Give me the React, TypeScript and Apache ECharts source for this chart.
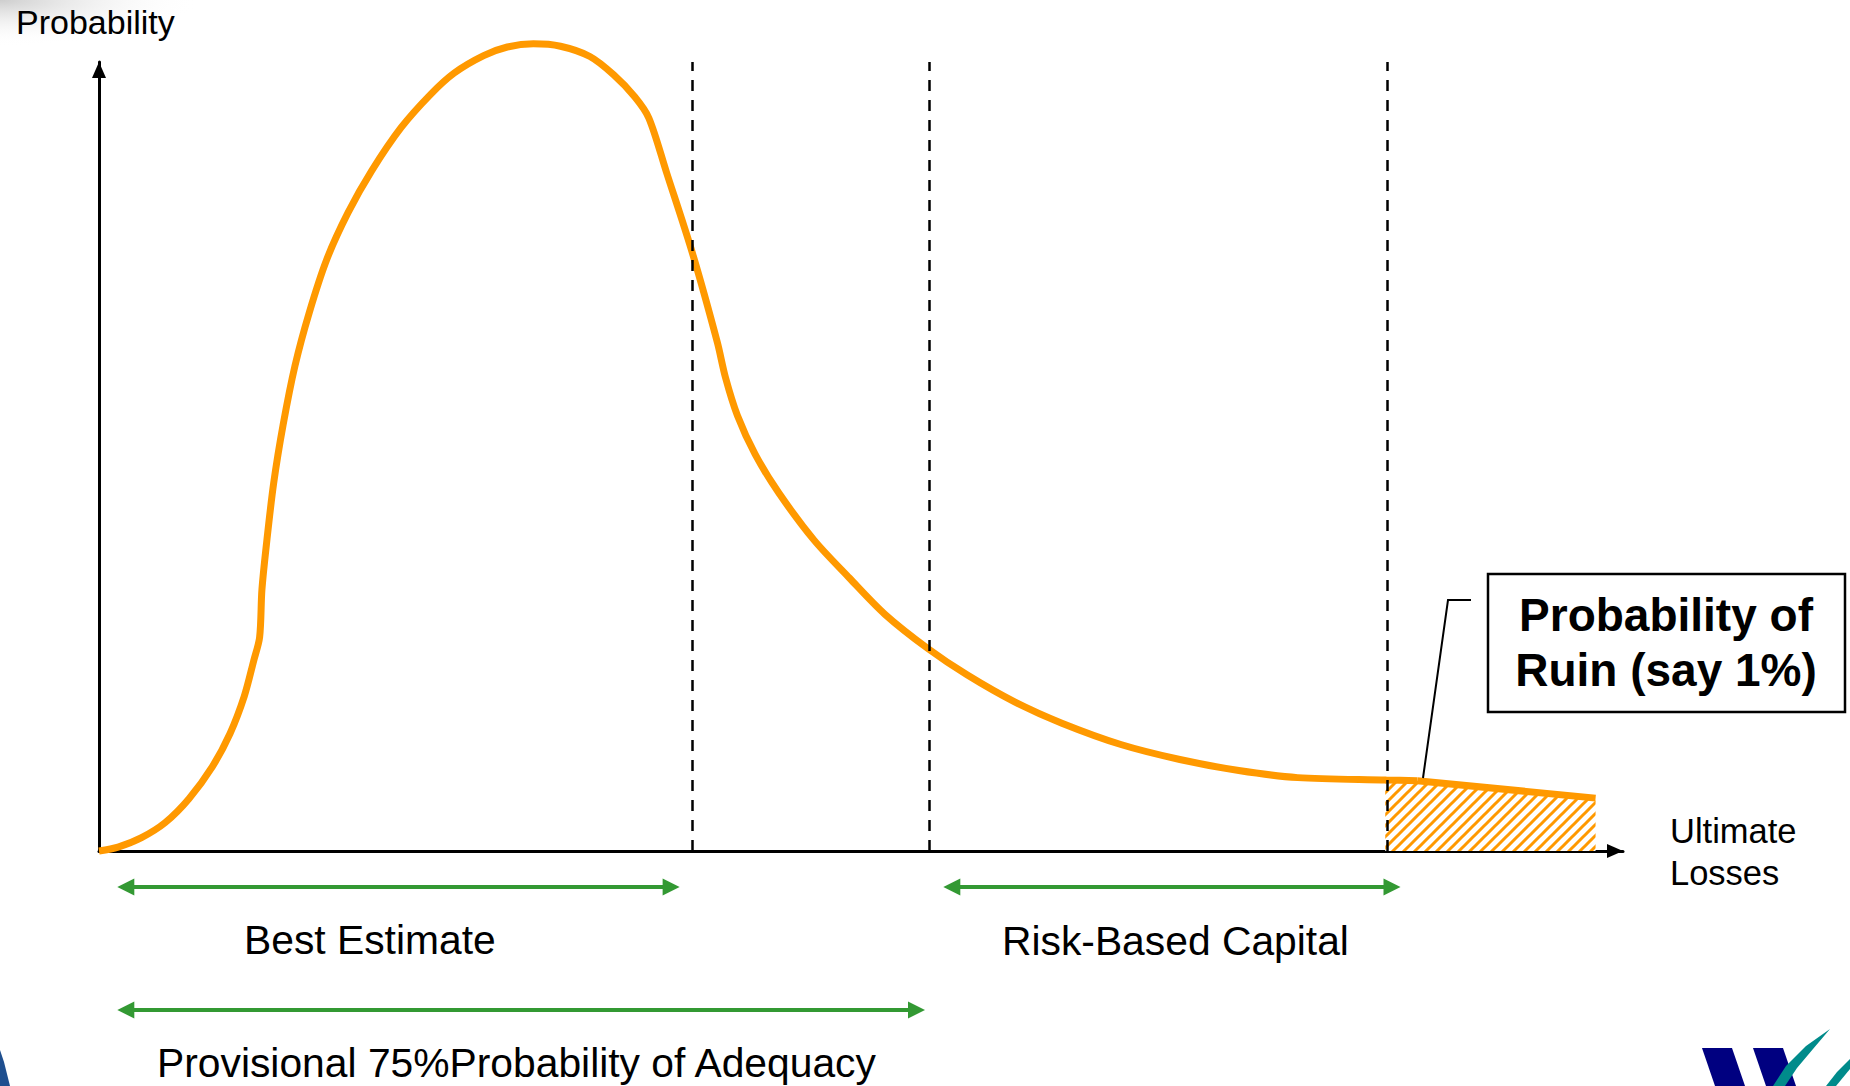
import { useEffect, useRef } from "react";
import * as echarts from "echarts";

// Loss distribution density (x = ultimate losses, y = probability), axis units 0..100
const lossCurve: [number, number][] = [
  [0, 0], [1.25, 0.5], [2.79, 1.7], [4.34, 3.6], [5.89, 6.6], [7.44, 10.7],
  [8.6, 14.9], [9.53, 19.6], [10.15, 24.1], [10.54, 27.1], [10.69, 33.1],
  [11.0, 39.1], [11.46, 46.6], [12.08, 54.0], [12.86, 61.5], [13.79, 68.2],
  [14.95, 75.0], [16.34, 80.9], [17.89, 86.2], [19.83, 91.7], [21.76, 95.9],
  [23.31, 98.6], [25.24, 100.8], [26.79, 101.9], [28.5, 102.3], [30.28, 102.0],
  [32.21, 100.7], [33.76, 98.4], [35.15, 95.6], [36.08, 92.9], [37.24, 86.0],
  [38.95, 75.7], [40.57, 64.5], [41.11, 60.0], [41.89, 55.2], [43.05, 50.3],
  [44.6, 45.4], [46.92, 39.4], [49.24, 34.6], [51.57, 30.0], [54.43, 25.6],
  [56.98, 22.3], [60.08, 18.9], [63.18, 16.2], [67.05, 13.5], [70.92, 11.6],
  [74.79, 10.2], [78.66, 9.3], [84.47, 9.0], [86.5, 8.9],
];
// Straight tail beyond the ruin threshold
const tailSegment: [number, number][] = [[86.5, 8.9], [98.2, 6.7]];
// Shaded ruin area under the tail
const ruinArea: [number, number][] = [[84.4, 9.0], [86.5, 8.9], [98.2, 6.7]];

// Vertical thresholds: best estimate, 75% adequacy, ruin
const thresholds = [38.9, 54.46, 84.5];

// Horizontal ranges shown under the axis
const bestEstimateRange = [1.2, 38.1];
const riskCapitalRange = [55.4, 85.4];
const adequacyRange = [1.2, 54.2];

const yAxisTitle = "Probability";
const xAxisTitle = ["Ultimate", "Losses"];
const bestEstimateLabel = "Best Estimate";
const riskCapitalLabel = "Risk-Based Capital";
const adequacyLabel = "Provisional 75%Probability of Adequacy";
const ruinLabel = ["Probability of", "Ruin (say 1%)"];

const ORANGE = "#FF9900";
const GREEN = "#339933";
const FONT = "'Liberation Sans', Arial, sans-serif";

function hatchCanvas(): HTMLCanvasElement {
  const s = 11;
  const c = document.createElement("canvas");
  c.width = s;
  c.height = s;
  const ctx = c.getContext("2d")!;
  ctx.fillStyle = "#ffffff";
  ctx.fillRect(0, 0, s, s);
  ctx.strokeStyle = ORANGE;
  ctx.lineWidth = 3;
  ctx.beginPath();
  ctx.moveTo(-1, s + 1);
  ctx.lineTo(s + 1, -1);
  ctx.moveTo(-2, 2);
  ctx.lineTo(2, -2);
  ctx.moveTo(s - 2, s + 2);
  ctx.lineTo(s + 2, s - 2);
  ctx.stroke();
  return c;
}

function rangeArrow(x1: number, x2: number, y: number): any[] {
  const head = 17;
  const half = 8.5;
  return [
    {
      type: "line",
      silent: true,
      z: 20,
      shape: { x1: x1 + head - 2, y1: y, x2: x2 - head + 2, y2: y },
      style: { stroke: GREEN, lineWidth: 4 },
    },
    {
      type: "polygon",
      silent: true,
      z: 20,
      shape: { points: [[x1, y], [x1 + head, y - half], [x1 + head, y + half]] },
      style: { fill: GREEN },
    },
    {
      type: "polygon",
      silent: true,
      z: 20,
      shape: { points: [[x2, y], [x2 - head, y - half], [x2 - head, y + half]] },
      style: { fill: GREEN },
    },
  ];
}

function label(text: string, x: number, y: number, size: number, opts: any = {}): any {
  return {
    type: "text",
    silent: true,
    z: 30,
    style: {
      text,
      x,
      y,
      font: `${opts.bold ? "bold " : ""}${size}px ${FONT}`,
      fill: "#000",
      textAlign: opts.align || "left",
      textVerticalAlign: "middle",
    },
  };
}

export default function App() {
  const ref = useRef<HTMLDivElement>(null);

  useEffect(() => {
    if (!ref.current) return;
    document.body.style.margin = "0";
    const chart = echarts.init(ref.current, null, { renderer: "svg" });

    const axisCommon = {
      type: "value" as const,
      min: 0,
      max: 100,
      axisLine: {
        show: true,
        lineStyle: { color: "#000", width: 3 },
        symbol: ["none", "triangle"],
        symbolSize: [14, 16],
        symbolOffset: [0, -8],
      },
      axisTick: { show: false },
      axisLabel: { show: false },
      splitLine: { show: false },
    };

    chart.setOption({
      animation: false,
      backgroundColor: "#ffffff",
      grid: { left: 99, top: 62, width: 1524, height: 789 },
      xAxis: axisCommon,
      yAxis: axisCommon,
      tooltip: { show: false },
      series: [
        {
          type: "line",
          name: "Ruin area",
          data: ruinArea,
          symbol: "none",
          silent: true,
          clip: false,
          z: 1,
          lineStyle: { width: 0 },
          areaStyle: {
            opacity: 1,
            color: { image: hatchCanvas(), repeat: "repeat", imageWidth: 11, imageHeight: 11 },
          },
        },
        {
          type: "line",
          name: "Loss distribution",
          data: lossCurve,
          symbol: "none",
          smooth: 0.3,
          silent: true,
          clip: false,
          z: 3,
          lineStyle: { color: ORANGE, width: 7 },
          markLine: {
            silent: true,
            symbol: ["none", "none"],
            label: { show: false },
            emphasis: { disabled: true },
            lineStyle: { color: "#000", width: 2.5, type: [11, 9] },
            data: thresholds.map((v) => ({ xAxis: v })),
          },
        },
        {
          type: "line",
          name: "Tail",
          data: tailSegment,
          symbol: "none",
          silent: true,
          clip: false,
          z: 3,
          lineStyle: { color: ORANGE, width: 7 },
        },
      ],
    });

    const px = (v: number) => chart.convertToPixel({ xAxisIndex: 0 }, v) as number;

    const graphics: any[] = [
      // soft grey corner shading behind the title
      {
        type: "rect",
        silent: true,
        z: 0,
        shape: { x: 0, y: 0, width: 200, height: 46 },
        style: {
          fill: {
            type: "radial",
            x: 0,
            y: 0,
            r: 1,
            colorStops: [
              { offset: 0, color: "rgba(200,200,200,0.9)" },
              { offset: 1, color: "rgba(255,255,255,0)" },
            ],
          },
        },
      },
      label(yAxisTitle, 16, 22, 34),
      label(xAxisTitle[0], 1670, 831, 34.5),
      label(xAxisTitle[1], 1670, 873, 34.5),
      ...rangeArrow(px(bestEstimateRange[0]), px(bestEstimateRange[1]), 887),
      ...rangeArrow(px(riskCapitalRange[0]), px(riskCapitalRange[1]), 887),
      ...rangeArrow(px(adequacyRange[0]), px(adequacyRange[1]), 1010),
      label(bestEstimateLabel, 244, 940, 40.8),
      label(riskCapitalLabel, 1002, 941, 40.8),
      label(adequacyLabel, 157, 1063, 40.8),
      // callout for the ruin probability
      {
        type: "polyline",
        silent: true,
        z: 25,
        shape: { points: [[1423, 778], [1448, 600], [1471, 600]] },
        style: { stroke: "#000", lineWidth: 2, fill: "none" },
      },
      {
        type: "rect",
        silent: true,
        z: 25,
        shape: { x: 1488, y: 574, width: 357, height: 138 },
        style: { stroke: "#000", lineWidth: 2.5, fill: "#fff" },
      },
      label(ruinLabel[0], 1666, 615, 46, { bold: true, align: "center" }),
      label(ruinLabel[1], 1666, 670, 46, { bold: true, align: "center" }),
      // corner marks of the slide
      {
        type: "polygon",
        silent: true,
        z: 5,
        shape: { points: [[0, 1050], [4, 1062], [10, 1086], [0, 1086]] },
        style: { fill: "#1f4f8f" },
      },
      {
        type: "polygon",
        silent: true,
        z: 5,
        shape: { points: [[1702, 1048], [1732, 1048], [1745, 1086], [1715, 1086]] },
        style: { fill: "#000080" },
      },
      {
        type: "polygon",
        silent: true,
        z: 5,
        shape: { points: [[1753, 1048], [1783, 1048], [1796, 1086], [1766, 1086]] },
        style: { fill: "#000080" },
      },
      {
        type: "polygon",
        silent: true,
        z: 6,
        shape: {
          points: [[1830, 1029], [1806, 1046], [1786, 1066], [1773, 1086], [1785, 1086], [1797, 1068], [1813, 1049]],
        },
        style: { fill: "#008B8B" },
      },
      {
        type: "polygon",
        silent: true,
        z: 6,
        shape: { points: [[1850, 1059], [1837, 1072], [1826, 1086], [1836, 1086], [1850, 1069]] },
        style: { fill: "#008B8B" },
      },
    ];

    chart.setOption({ graphic: graphics });

    return () => chart.dispose();
  }, []);

  return (
    <div
      ref={ref}
      style={{ position: "absolute", left: 0, top: 0, width: 1850, height: 1086, background: "#fff" }}
    />
  );
}
